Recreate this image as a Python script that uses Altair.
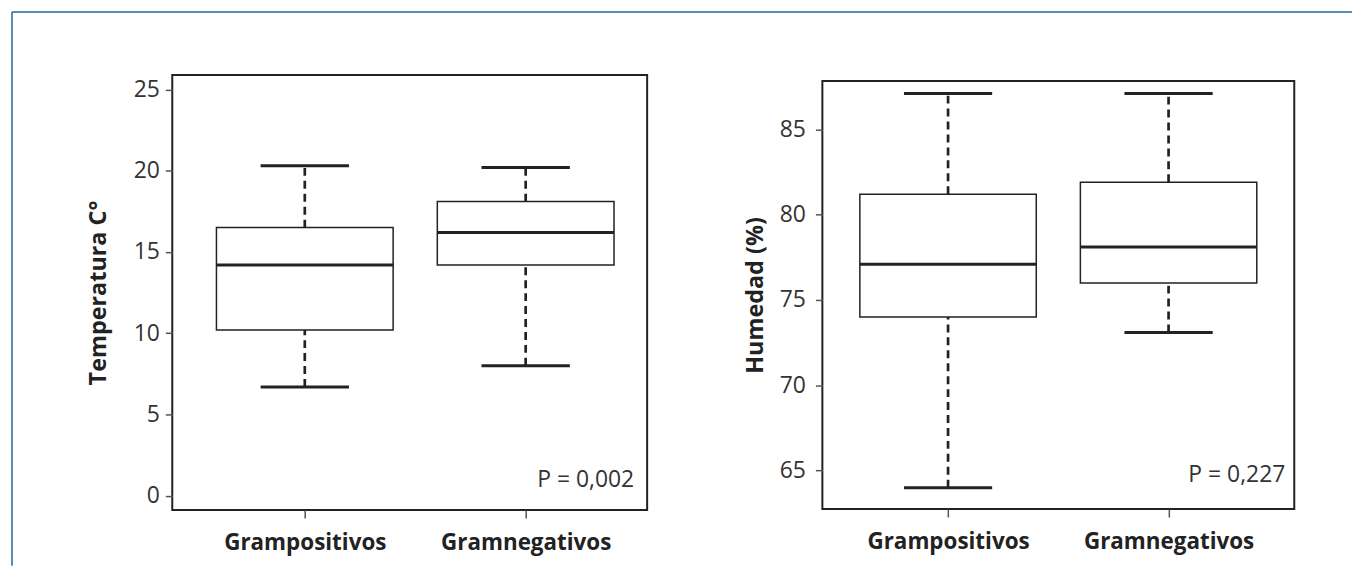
import altair as alt
import pandas as pd

# ---------------- data ----------------
groups = ["Grampositivos", "Gramnegativos"]
group_pos = [1, 2]

temp_min = [6.7, 8.0]
temp_q1 = [10.2, 14.2]
temp_med = [14.2, 16.2]
temp_q3 = [16.5, 18.1]
temp_max = [20.3, 20.2]

hum_min = [64.0, 73.1]
hum_q1 = [74.0, 76.0]
hum_med = [77.1, 78.1]
hum_q3 = [81.2, 81.9]
hum_max = [87.1, 87.1]

temp_ticks = [0, 5, 10, 15, 20, 25]
hum_ticks = [65, 70, 75, 80, 85]
temp_domain = [-0.87, 25.89]
hum_domain = [62.75, 87.84]
temp_title = "Temperatura C°"
hum_title = "Humedad (%)"
p_labels = ["P = 0,002", "P = 0,227"]

FONT = "Open Sans"
INK = "#222222"
TXT = "#333333"
BLUE = "#2b5ea8"

label_expr = f"datum.value == {group_pos[0]} ? '{groups[0]}' : '{groups[1]}'"


def make_df(mn, q1, med, q3, mx):
    return pd.DataFrame({"group": groups, "pos": group_pos, "lo": mn,
                         "q1": q1, "med": med, "q3": q3, "hi": mx})


def panel(df, ydomain, yticks, ytitle, xdomain, w, h, ptext, p_right,
          p_bottom, label_pad, title_pad, extra=None):
    base = alt.Chart(df).transform_calculate(
        box_l="datum.pos - 0.4", box_r="datum.pos + 0.4",
        cap_l="datum.pos - 0.2", cap_r="datum.pos + 0.2")
    xs = alt.Scale(domain=xdomain, nice=False, zero=False)
    ys = alt.Scale(domain=ydomain, nice=False, zero=False)
    xaxis = alt.Axis(values=group_pos, labelExpr=label_expr, title=None,
                     grid=False, domain=False, tickSize=8, tickColor="#555555",
                     tickWidth=1.5, labelFont=FONT, labelFontSize=22.5,
                     labelFontWeight="bold", labelColor=INK, labelPadding=14)
    yaxis = alt.Axis(values=yticks, title=ytitle, grid=False, domain=False,
                     tickSize=7, tickColor="#555555", tickWidth=1.5,
                     labelFont=FONT, labelFontSize=23, labelColor=TXT,
                     labelPadding=label_pad, titleFont=FONT, titleFontSize=23.5,
                     titleFontWeight="bold", titleColor=INK,
                     titlePadding=title_pad)

    def X(f):
        return alt.X(f"{f}:Q", scale=xs, axis=xaxis)

    def Y(f):
        return alt.Y(f"{f}:Q", scale=ys, axis=yaxis)

    dash = dict(strokeDash=[8, 5], strokeWidth=2.7, color=INK)
    whisk_lo = base.mark_rule(**dash).encode(x=X("pos"), y=Y("lo"), y2="q1:Q")
    whisk_hi = base.mark_rule(**dash).encode(x=X("pos"), y=Y("q3"), y2="hi:Q")
    box = base.mark_rect(fill="white", stroke=INK, strokeWidth=1.5).encode(
        x=X("box_l"), x2="box_r:Q", y=Y("q1"), y2="q3:Q")
    med = base.mark_rule(strokeWidth=3, color=INK).encode(
        x=X("box_l"), x2="box_r:Q", y=Y("med"))
    cap_lo = base.mark_rule(strokeWidth=3, color=INK).encode(
        x=X("cap_l"), x2="cap_r:Q", y=Y("lo"))
    cap_hi = base.mark_rule(strokeWidth=3, color=INK).encode(
        x=X("cap_l"), x2="cap_r:Q", y=Y("hi"))
    ptxt = alt.Chart(pd.DataFrame({"t": [ptext]})).mark_text(
        align="right", baseline="alphabetic", font=FONT, fontSize=23,
        color=TXT).encode(x=alt.value(w - p_right), y=alt.value(h - p_bottom),
                          text="t:N")
    layers = [whisk_lo, whisk_hi, box, med, cap_lo, cap_hi, ptxt]
    if extra:
        layers += extra
    return alt.layer(*layers).properties(
        width=w, height=h,
        view=alt.ViewBackground(stroke=INK, strokeWidth=2, fill="white"))


# outer page frame (decoration)
frame_df = pd.DataFrame({"k": [0]})
top_line = alt.Chart(frame_df).mark_rule(color=BLUE, strokeWidth=1.5).encode(
    x=alt.value(-161), x2=alt.value(1185), y=alt.value(-63.2))
left_line = alt.Chart(frame_df).mark_rule(color=BLUE, strokeWidth=1.5).encode(
    x=alt.value(-161), y=alt.value(-63.2), y2=alt.value(493))

left = panel(make_df(temp_min, temp_q1, temp_med, temp_q3, temp_max),
             temp_domain, temp_ticks, temp_title, [0.40, 2.55], 477, 437,
             p_labels[0], 13, 23, 6, 23, extra=[top_line, left_line])

right = panel(make_df(hum_min, hum_q1, hum_med, hum_q3, hum_max),
              hum_domain, hum_ticks, hum_title, [0.43, 2.57], 474, 430,
              p_labels[1], 9, 27, 10, 12)

spacer = alt.Chart(frame_df).mark_point(opacity=0).encode(
    x=alt.value(0), y=alt.value(0)).properties(width=474, height=6)

right_col = alt.vconcat(spacer, right, spacing=0, bounds="flush")

chart = alt.hconcat(left, right_col, spacing=176, bounds="flush").properties(
    padding={"left": 2, "top": 1, "right": 0, "bottom": 0}
).configure_view(strokeWidth=0)

chart.save("out.html", embed_options={"renderer": "svg", "actions": False})
